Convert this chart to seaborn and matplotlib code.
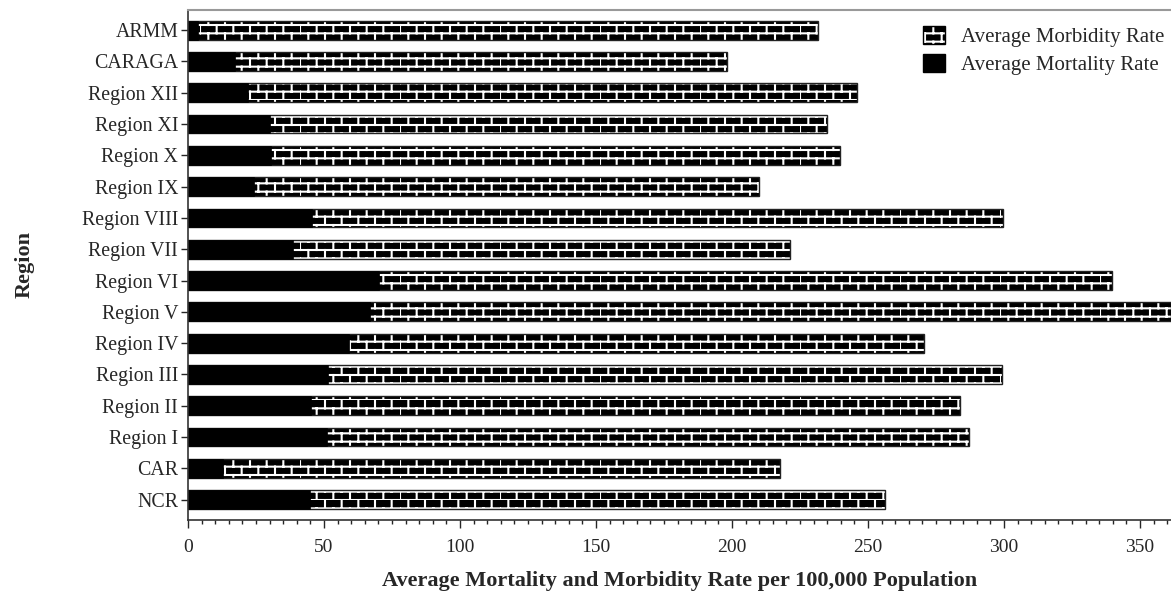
import warnings
import numpy as np
import pandas as pd
import matplotlib
matplotlib.use("Agg")
import matplotlib.pyplot as plt
import matplotlib.patches as mpatches
from matplotlib import hatch as mhatch
from matplotlib.path import Path
import seaborn as sns

warnings.filterwarnings("ignore")

# data (per 100,000 population)
regions = ["ARMM", "CARAGA", "Region XII", "Region XI", "Region X", "Region IX",
           "Region VIII", "Region VII", "Region VI", "Region V", "Region IV",
           "Region III", "Region II", "Region I", "CAR", "NCR"]
morbidity = [231.5, 198.2, 245.9, 234.8, 239.7, 209.9,
             299.6, 221.3, 339.7, 361.5, 270.6,
             299.3, 283.8, 287.1, 217.6, 256.3]
mortality = [3.8, 17.3, 22.0, 30.1, 30.5, 24.3,
             45.6, 38.6, 70.2, 66.9, 59.2,
             51.5, 45.2, 51.1, 12.9, 44.9]

df = pd.DataFrame({"Region": regions, "Morbidity": morbidity, "Mortality": mortality})


# brick hatch ('b'), white lines drawn on the black bars
class BrickHatch(mhatch.HatchPatternBase):
    def __init__(self, hatch, density):
        self.n = hatch.count('b') * density
        self.num_vertices = 2 * (2 * self.n + 2 * self.n * self.n)

    def set_vertices_and_codes(self, vertices, codes):
        n = self.n
        segs = []
        for r in range(2 * n):
            y0 = r / (2 * n)
            y1 = (r + 1) / (2 * n)
            segs.append(((0, y0), (1, y0)))
            off = 0.5 / n if r % 2 else 0.0
            for c in range(n):
                x = c / n + off
                segs.append(((x, y0), (x, y1)))
        vertices[:] = np.array(segs).reshape(-1, 2)
        codes[0::2] = Path.MOVETO
        codes[1::2] = Path.LINETO


mhatch._hatch_types.append(BrickHatch)

sns.set_style("ticks")
plt.rcParams['font.family'] = ['Liberation Serif', 'DejaVu Serif']
plt.rcParams['hatch.linewidth'] = 1.5

fig = plt.figure(figsize=(11.71, 5.96), dpi=100)
ax = fig.add_axes([0.1605, 0.128, 0.8395, 0.855])

# morbidity: black bars with white brick pattern
sns.barplot(data=df, x="Morbidity", y="Region", orient="h", color="black",
            saturation=1, width=0.6, errorbar=None, ax=ax,
            edgecolor="white", linewidth=0, hatch="b")
# outline of the morbidity bars
sns.barplot(data=df, x="Morbidity", y="Region", orient="h", color="black",
            saturation=1, width=0.6, errorbar=None, ax=ax,
            facecolor="none", edgecolor="#222222", linewidth=1.0)
# mortality: solid black
sns.barplot(data=df, x="Mortality", y="Region", orient="h", color="black",
            saturation=1, width=0.6, errorbar=None, ax=ax,
            edgecolor="black", linewidth=0.5)

ax.set_xlim(0, 361.4)
ax.set_ylim(15.64, -0.64)
ax.set_xticks(np.arange(0, 351, 50))
ax.set_xticks(np.arange(0, 361, 5), minor=True)
ax.tick_params(axis='x', which='major', length=6, width=1, labelsize=14, pad=8, direction='out')
ax.tick_params(axis='x', which='minor', length=3, width=1, direction='out')
ax.tick_params(axis='y', which='major', length=5, width=1, labelsize=14.3, pad=2, direction='out')

ax.set_xlabel("Average Mortality and Morbidity Rate per 100,000 Population",
              fontsize=16, fontweight='bold', labelpad=11)
ax.set_ylabel("Region", fontsize=16, fontweight='bold', labelpad=34)

for s in ["left", "bottom"]:
    ax.spines[s].set_color("#333333")
    ax.spines[s].set_linewidth(1.2)
ax.spines["top"].set_color("#999999")
ax.spines["top"].set_linewidth(1.5)
ax.spines["right"].set_visible(False)

h_morb = (mpatches.Patch(facecolor="black", edgecolor="white", linewidth=0, hatch="b"),
          mpatches.Patch(facecolor="none", edgecolor="black", linewidth=1))
h_mort = mpatches.Patch(facecolor="black", edgecolor="black")
ax.legend([h_morb, h_mort], ["Average Morbidity Rate", "Average Mortality Rate"],
          loc="upper right", frameon=False, fontsize=15, handlelength=1.05,
          handleheight=0.9, handletextpad=0.75, labelspacing=0.35,
          bbox_to_anchor=(1.012, 1.005))

fig.savefig("out.png", dpi=100)
